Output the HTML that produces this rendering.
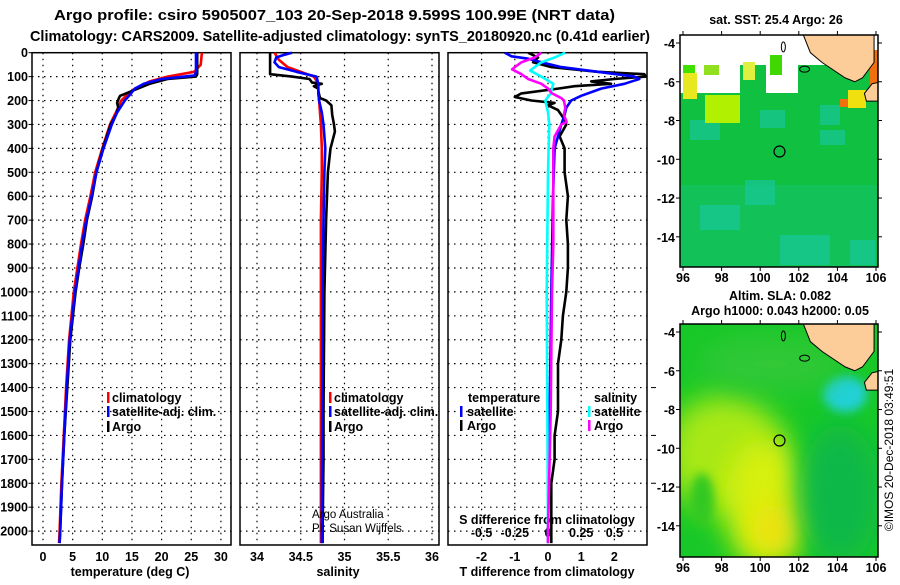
<!DOCTYPE html>
<html><head><meta charset="utf-8"><style>
body{margin:0;background:#fff}
svg text{font-family:"Liberation Sans",sans-serif;font-weight:bold;font-size:12.5px;fill:#000}
</style></head><body>
<svg id="s" width="900" height="580" viewBox="0 0 900 580">
<defs>
<clipPath id="c1"><rect x="32" y="38" width="199" height="507"/></clipPath>
<clipPath id="c2"><rect x="240" y="38" width="199" height="507"/></clipPath>
<clipPath id="c3"><rect x="448" y="52" width="200" height="493"/></clipPath>
<clipPath id="m1"><rect x="680" y="35" width="198" height="232"/></clipPath>
<clipPath id="m2"><rect x="680" y="324" width="198" height="233"/></clipPath>
<filter id="bl" x="-50%" y="-50%" width="200%" height="200%"><feGaussianBlur stdDeviation="14"/></filter>
<filter id="bs" x="-50%" y="-50%" width="200%" height="200%"><feGaussianBlur stdDeviation="5"/></filter>
</defs>
<text x="334.5" y="20" text-anchor="middle" textLength="561" lengthAdjust="spacingAndGlyphs" style="font-size:15px">Argo profile: csiro 5905007_103 20-Sep-2018 9.599S 100.99E (NRT data)</text>
<text x="340" y="41" text-anchor="middle" textLength="620" lengthAdjust="spacingAndGlyphs" style="font-size:15px">Climatology: CARS2009. Satellite-adjusted climatology: synTS_20180920.nc (0.41d earlier)</text>
<g id="g"></g>
<text transform="translate(893,450) rotate(-90)" text-anchor="middle" style="font-weight:normal;font-size:12px">©IMOS 20-Dec-2018 03:49:51</text>
</svg>
<script>
// ---- profile data (depth m, value) ----
const tDepth=[0,50,80,100,120,150,180,200,250,300,400,500,600,700,800,900,1000,1200,1400,1600,1800,2000,2050];
const tClim=[26.8,26.6,25.5,21,18,15.5,14,13.2,12.3,11.3,10,8.8,8,7.1,6.4,5.8,5.2,4.4,3.9,3.5,3.1,2.8,2.7];
const tSatDepth=[0,80,95,110,130,150,180,200,250,300,400,500,600,700,800,900,1000,1200,1400,1600,1800,2000,2050];
const tSat=[25.8,25.8,25.6,20,17,15.5,14.5,13.8,12.5,11.6,10.2,9,8.2,7.3,6.6,6,5.4,4.5,4,3.6,3.2,2.9,2.8];
const tArgoDepth=[0,90,100,110,130,150,170,180,190,210,230,260,300,400,500,600,700,800,900,1000,1200,1400,1600,1800,2000,2050];
const tArgo=[26,26,25.8,21,18,16,14,13,12.8,12.5,12.7,12.3,11.4,10.1,9,8.3,7.4,6.8,6.1,5.5,4.6,4.1,3.6,3.2,2.9,2.8];
const sClimDepth=[0,30,60,80,100,130,160,200,250,300,400,500,700,1000,1500,2000,2050];
const sClim=[34.2,34.25,34.35,34.5,34.65,34.7,34.7,34.71,34.72,34.73,34.74,34.74,34.73,34.73,34.73,34.73,34.73];
const sSatDepth=[0,10,20,40,60,80,100,130,170,200,250,300,400,500,700,1000,2000,2050];
const sSat=[34.4,34.3,34.22,34.2,34.25,34.45,34.68,34.7,34.7,34.71,34.74,34.76,34.78,34.77,34.76,34.75,34.74,34.74];
const sArgoDepth=[0,90,100,110,125,130,140,150,160,190,200,220,260,300,330,400,500,600,700,1000,1500,1700,2000,2050];
const sArgo=[34.15,34.15,34.4,34.6,34.63,34.74,34.65,34.7,34.7,34.72,34.79,34.85,34.86,34.88,34.89,34.84,34.81,34.8,34.79,34.77,34.76,34.76,34.75,34.75];
const dTSatDepth=[0,15,25,40,60,80,100,110,130,150,180,200,230,260,300,350,400,600,1000,1500,2000,2050];
const dTSat=[-1.3,-1.1,-0.6,-0.2,0.4,1.5,2.6,2.75,2.3,1.6,1.0,0.7,0.55,0.5,0.4,0.3,0.2,0.15,0.1,0.05,0,0];
const dTArgoDepth=[0,20,40,60,80,90,100,110,120,130,140,150,170,185,200,210,220,240,280,300,350,400,500,600,700,800,900,1000,1100,1200,1300,1400,1500,1600,1700,1800,1900,2000,2050];
const dTArgo=[-0.6,-0.3,-0.45,0.1,1.5,2.9,2.95,2.0,1.3,1.9,0.8,0.3,-0.8,-1.0,-0.5,0.2,0,0.3,0.5,0.55,0.35,0.5,0.5,0.6,0.55,0.6,0.6,0.55,0.45,0.4,0.3,0.3,0.3,0.2,0.2,0.1,0.1,0.1,0.1];
const dSSatDepth=[0,20,40,60,75,100,130,170,200,250,300,500,1000,2000,2050];
const dSSat=[0.13,0.05,-0.05,-0.1,-0.135,-0.05,0.04,0.02,-0.02,0,0.01,0,-0.01,0,0];
const dSArgoDepth=[0,20,40,60,70,90,110,130,150,170,190,200,230,260,290,300,350,400,600,800,1000,1500,2000,2050];
const dSArgo=[-0.05,-0.1,-0.2,-0.25,-0.27,-0.2,-0.15,-0.05,0,0.03,0.1,0.12,0.13,0.12,0.14,0.1,0.05,0.04,0.04,0.04,0.03,0.02,0,0];
const depthTicks=[0,100,200,300,400,500,600,700,800,900,1000,1100,1200,1300,1400,1500,1600,1700,1800,1900,2000];
const tTicks=[0,5,10,15,20,25,30];
const sTicks=[34,34.5,35,35.5,36];
const sTickLabels=["34","34.5","35","35.5","36"];
const dTTicks=[-2,-1,0,1,2];
const dSTicks=[-0.5,-0.25,0,0.25,0.5];
const dSTickLabels=["-0.5","-0.25","0","0.25","0.5"];
const latTicks=[-4,-6,-8,-10,-12,-14];
const lonTicks=[96,98,100,102,104,106];

const NS='http://www.w3.org/2000/svg';
const G=document.getElementById('g');
function el(tag,a,parent){const e=document.createElementNS(NS,tag);for(const k in a)e.setAttribute(k,a[k]);(parent||G).appendChild(e);return e;}
const yD=d=>52.7+d*0.2392;
const xT=v=>43+v*5.93;
const xS=v=>257+(v-34)*87.5;
const xDT=v=>548+v*33.2;
const xDS=v=>548+v*132.8;

function path(ds,vs,fx,color,clip,name,w){
  let d='';ds.forEach((dd,i)=>{d+=(i?'L':'M')+fx(vs[i]).toFixed(1)+','+yD(dd).toFixed(1);});
  const p=el('path',{d:d,fill:'none',stroke:color,'stroke-width':w||2.6,'clip-path':'url(#'+clip+')','stroke-linejoin':'round'});
  
  
}
function txt(x,y,s,anchor,style,name){const t=el('text',{x:x,y:y,'text-anchor':anchor||'start'});if(style)t.setAttribute('style',style);t.textContent=s;
  
  return t;}

const panels=[[32,'c1','temperature-panel'],[240,'c2','salinity-panel'],[448,'c3','difference-panel']];
panels.forEach(([x0,c,n])=>{
  const r=el('rect',{x:x0,y:52.7,width:199,height:492.3,fill:'none',stroke:'#000','stroke-width':1.5});
  
  
  depthTicks.forEach(d=>{if(d>0)el('line',{x1:x0,x2:x0+199,y1:yD(d),y2:yD(d),stroke:'#000','stroke-dasharray':'1.5,4.5','stroke-width':1.2});});
});
depthTicks.forEach(d=>{txt(28,yD(d)+4.5,String(d),'end',null,'depth-tick-label');
  el('line',{x1:32,x2:28.5,y1:yD(d),y2:yD(d),stroke:'#000'});});
tTicks.forEach(v=>{el('line',{x1:xT(v),x2:xT(v),y1:52.7,y2:545,stroke:'#000','stroke-dasharray':'1.5,4.5','stroke-width':1.2});
  txt(xT(v),561,String(v),'middle',null,'temperature-tick-label');});
sTicks.forEach((v,i)=>{el('line',{x1:xS(v),x2:xS(v),y1:52.7,y2:545,stroke:'#000','stroke-dasharray':'1.5,4.5','stroke-width':1.2});
  txt(xS(v),561,sTickLabels[i],'middle',null,'salinity-tick-label');});
dTTicks.forEach(v=>{el('line',{x1:xDT(v),x2:xDT(v),y1:52.7,y2:545,stroke:'#000','stroke-dasharray':'1.5,4.5','stroke-width':1.2});
  txt(xDT(v),561,String(v),'middle',null,'t-difference-tick-label');});
dSTicks.forEach((v,i)=>{txt(xDS(v),537,dSTickLabels[i],'middle',null,'s-difference-tick-label');});
[1400,1600,1800].forEach(d=>el('line',{x1:651,x2:656,y1:yD(d),y2:yD(d),stroke:'#000'}));
txt(130,576,'temperature (deg C)','middle',null,'temperature-axis-title');
txt(338,576,'salinity','middle',null,'salinity-axis-title');
txt(547,576,'T difference from climatology','middle',null,'t-difference-axis-title');
txt(547,524,'S difference from climatology','middle',null,'s-difference-axis-title');

path(tDepth,tClim,xT,'#f00','c1','temperature-climatology-line');
path(tArgoDepth,tArgo,xT,'#000','c1','temperature-argo-line');
path(tSatDepth,tSat,xT,'#00f','c1','temperature-satellite-line');
path(sClimDepth,sClim,xS,'#f00','c2','salinity-climatology-line');
path(sArgoDepth,sArgo,xS,'#000','c2','salinity-argo-line');
path(sSatDepth,sSat,xS,'#00f','c2','salinity-satellite-line');
path(dTArgoDepth,dTArgo,xDT,'#000','c3','t-diff-argo-line');
path(dTSatDepth,dTSat,xDT,'#00f','c3','t-diff-satellite-line');
path(dSSatDepth,dSSat,xDS,'#0ff','c3','s-diff-satellite-line');
path(dSArgoDepth,dSArgo,xDS,'#f0f','c3','s-diff-argo-line');

function leg(xb,xt,y,c,s,n){el('rect',{x:xb,y:y-10,width:2.5,height:11,fill:c});txt(xt,y,s,'start',null,n);}
leg(107,112,402,'#f00','climatology','legend-climatology');
leg(107,112,416,'#00f','satellite-adj. clim.','legend-satellite');
leg(107,112,431,'#000','Argo','legend-argo');
leg(329,334,402,'#f00','climatology','legend-climatology-2');
leg(329,334,416,'#00f','satellite-adj. clim.','legend-satellite-2');
leg(329,334,431,'#000','Argo','legend-argo-2');
txt(468,402,'temperature','start',null,'legend-temperature-heading');
leg(460,467,416,'#00f','satellite','legend-t-satellite');
leg(460,467,430,'#000','Argo','legend-t-argo');
txt(594,402,'salinity','start',null,'legend-salinity-heading');
leg(588,594,416,'#0ff','satellite','legend-s-satellite');
leg(588,594,430,'#f0f','Argo','legend-s-argo');
txt(312,518,'Argo Australia','start','font-weight:normal;font-size:11.5px','credit-argo-australia');
txt(312,532,'PI: Susan Wijffels','start','font-weight:normal;font-size:11.5px','credit-pi');

function map(y0,h,clip,name,title1,title2,kind){
  const lx=l=>683+(l-96)*19.3, ly=l=>y0+8+(-4-l)*19.38;
  const g=el('g',{'clip-path':'url(#'+clip+')'});
  
  
  if(kind==='sst'){
    el('rect',{x:680,y:y0,width:198,height:h,fill:'#10c040'},g);
    el('rect',{x:680,y:y0+150,width:198,height:82,fill:'#12c258'},g);
    [[690,120,30,20],[760,110,25,18],[820,105,20,20],[700,205,40,25],[780,235,50,30],[850,240,25,25],[820,130,25,15],[745,180,30,25]].forEach(r=>el('rect',{x:r[0],y:r[1],width:r[2],height:r[3],fill:'#18c89a',opacity:0.7},g));
    el('rect',{x:680,y:y0,width:198,height:30,fill:'#fff'},g);
    el('rect',{x:680,y:y0+30,width:60,height:28,fill:'#fff'},g);
    el('rect',{x:766,y:y0+30,width:32,height:28,fill:'#fff'},g);
    el('rect',{x:683,y:y0+30,width:12,height:8,fill:'#40e000'},g);
    el('rect',{x:683,y:y0+38,width:14,height:26,fill:'#e8e820'},g);
    el('rect',{x:705,y:y0+60,width:35,height:28,fill:'#b0f000'},g);
    el('rect',{x:743,y:y0+27,width:12,height:18,fill:'#e0f040'},g);
    el('rect',{x:704,y:y0+30,width:15,height:10,fill:'#90e020'},g);
    el('rect',{x:770,y:y0+20,width:12,height:20,fill:'#40d800'},g);
    el('rect',{x:848,y:y0+55,width:18,height:18,fill:'#f0e010'},g);
    el('rect',{x:840,y:y0+64,width:8,height:8,fill:'#f07010'},g);
    el('rect',{x:870,y:y0+15,width:8,height:40,fill:'#f07010'},g);
  } else {
    el('rect',{x:680,y:y0,width:198,height:h,fill:'#18c828'},g);
    el('ellipse',{cx:725,cy:y0+130,rx:60,ry:60,fill:'#a8e818',filter:'url(#bl)'},g);
    el('ellipse',{cx:765,cy:y0+180,rx:40,ry:65,fill:'#d8f010',filter:'url(#bl)'},g);
    el('ellipse',{cx:775,cy:y0+205,rx:22,ry:25,fill:'#f0e010',filter:'url(#bl)'},g);
    el('ellipse',{cx:702,cy:y0+175,rx:12,ry:26,fill:'#30c820',filter:'url(#bs)'},g);
    el('ellipse',{cx:840,cy:y0+170,rx:40,ry:70,fill:'#08b848',filter:'url(#bl)'},g);
    el('ellipse',{cx:845,cy:y0+70,rx:22,ry:18,fill:'#20d0d8',filter:'url(#bs)'},g);
    el('ellipse',{cx:770,cy:y0+40,rx:70,ry:26,fill:'#30c838',filter:'url(#bl)'},g);
  }
  const land=[[102.2,-3.5],[102.6,-4.5],[103.2,-5],[103.8,-5.4],[104.4,-5.8],[104.9,-6],[105.3,-5.8],[105.6,-5.4],[105.9,-5],[105.9,-3.5]];
  el('polygon',{points:land.map(p=>lx(p[0])+','+ly(p[1])).join(' '),fill:'#fccc99',stroke:'#000','stroke-width':1},g);
  const java=[[105.8,-6.1],[106.3,-6],[106.3,-7],[105.5,-7],[105.4,-6.6]];
  el('polygon',{points:java.map(p=>lx(p[0])+','+ly(p[1])).join(' '),fill:'#fccc99',stroke:'#000','stroke-width':1},g);
  el('ellipse',{cx:lx(102.3),cy:ly(-5.35),rx:5,ry:3,fill:'none',stroke:'#000'},g);
  el('ellipse',{cx:lx(101.2),cy:ly(-4.2),rx:2,ry:5,fill:'none',stroke:'#000'},g);
  const c=el('circle',{cx:lx(101),cy:ly(-9.6),r:5.5,fill:'none',stroke:'#000','stroke-width':1.2});
  
  
  const fr=el('rect',{x:680,y:y0,width:198,height:h,fill:'none',stroke:'#000','stroke-width':1.5});
  
  
  latTicks.forEach(l=>{txt(675,ly(l)+5,String(l),'end',null,'lat-tick-label');
    el('line',{x1:676,x2:680,y1:ly(l),y2:ly(l),stroke:'#000'});el('line',{x1:878,x2:882,y1:ly(l),y2:ly(l),stroke:'#000'});});
  lonTicks.forEach(l=>{txt(lx(l),y0+h+15,String(l),'middle',null,'lon-tick-label');
    el('line',{x1:lx(l),x2:lx(l),y1:y0+h,y2:y0+h+4,stroke:'#000'});el('line',{x1:lx(l),x2:lx(l),y1:y0-4,y2:y0,stroke:'#000'});});
  if(title2){txt(780,y0-24,title1,'middle',null,name+'-title');txt(780,y0-9,title2,'middle',null,name+'-subtitle');}
  else txt(776,y0-11,title1,'middle',null,name+'-title');
}
map(35,232,'m1','sst-map','sat. SST: 25.4 Argo: 26',null,'sst');
map(324,233,'m2','sla-map','Altim. SLA: 0.082','Argo h1000: 0.043 h2000: 0.05','sla');
</script>
</body></html>
